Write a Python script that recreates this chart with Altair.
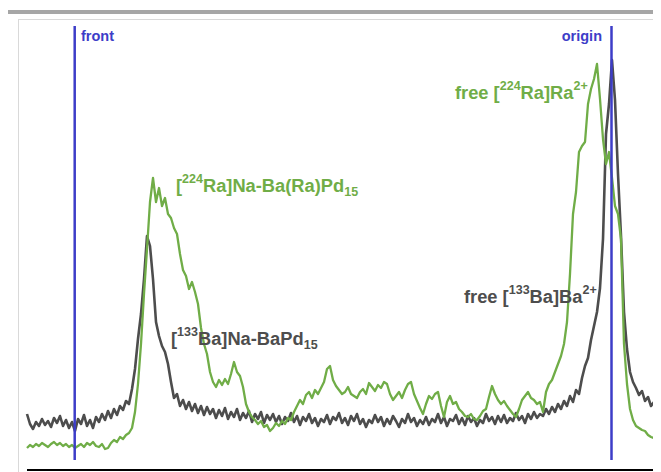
import altair as alt
import pandas as pd

# detector channel grid (channel 0 .. 633, every 3rd channel)
CHANNELS = list(range(0, 634, 3))

BA133 = [50, 40, 35, 42, 38, 45, 39, 43, 37, 46, 41, 48, 38, 44, 36, 42, 33, 45, 40, 49,
         38, 44, 36, 47, 42, 50, 44, 53, 46, 55, 49, 58, 54, 63, 60, 75, 95, 125, 150, 185,
         228, 218, 185, 142, 128, 118, 112, 100, 82, 66, 70, 58, 64, 55, 62, 53, 60, 51, 58, 49,
         57, 50, 55, 46, 54, 48, 56, 45, 52, 47, 55, 44, 51, 46, 53, 42, 50, 45, 52, 41,
         49, 44, 50, 42, 48, 40, 47, 43, 51, 42, 48, 39, 47, 43, 50, 41, 46, 38, 45, 42,
         49, 40, 47, 44, 51, 41, 46, 39, 48, 43, 50, 40, 45, 37, 44, 41, 49, 42, 47, 38,
         45, 40, 48, 43, 37, 45, 41, 50, 42, 46, 38, 44, 40, 47, 39, 45, 42, 50, 41, 47,
         38, 45, 43, 49, 40, 46, 39, 48, 42, 46, 38, 44, 41, 50, 43, 47, 40, 48, 42, 49,
         41, 46, 43, 51, 44, 48, 41, 50, 45, 52, 46, 50, 48, 55, 50, 57, 52, 60, 55, 63,
         58, 68, 62, 74, 70, 86, 98, 106, 124, 138, 152, 176, 225, 330, 360, 404, 364, 290, 228, 152,
         115, 92, 82, 76, 69, 73, 63, 67, 58, 62, 53, 56]

RA224 = [16, 19, 17, 20, 18, 21, 19, 17, 20, 22, 19, 21, 18, 20, 17, 19, 16, 18, 20, 17,
         21, 19, 22, 18, 17, 20, 15, 16, 21, 24, 22, 27, 25, 29, 31, 36, 52, 80, 120, 170,
         215, 262, 286, 262, 276, 258, 266, 250, 246, 236, 230, 210, 194, 188, 175, 182, 172, 160, 136, 120,
         110, 92, 82, 77, 84, 79, 85, 80, 90, 102, 92, 88, 77, 60, 52, 47, 44, 40, 43, 37,
         39, 33, 36, 41, 38, 43, 40, 46, 44, 52, 58, 64, 60, 69, 72, 66, 74, 70, 76, 82,
         95, 98, 84, 78, 74, 70, 72, 77, 70, 68, 66, 72, 75, 70, 81, 77, 73, 79, 76, 82,
         80, 70, 64, 68, 72, 66, 74, 80, 82, 70, 63, 56, 50, 60, 68, 65, 70, 72, 58, 47,
         62, 68, 60, 62, 55, 52, 48, 47, 50, 45, 44, 48, 53, 55, 67, 78, 70, 64, 60, 63,
         58, 54, 50, 47, 55, 64, 68, 72, 66, 64, 60, 62, 52, 72, 80, 84, 92, 100, 108, 120,
         142, 190, 250, 272, 312, 318, 322, 360, 375, 385, 400, 365, 325, 300, 312, 286, 258, 250, 225, 120,
         80, 55, 44, 38, 36, 34, 33, 29, 27, 26, 25, 24]

assert len(CHANNELS) == len(BA133) == len(RA224)

GRAY = "#4d4d4d"
GREEN = "#70ad47"
BLUE = "#3d3dc8"

FRONT_CH = 47.7
ORIGIN_CH = 584.5
MARKER_LOW = 4
MARKER_HIGH = 438

# Labels: anchor (channel, counts), colour, parts
LABELS = [
    (149, 272, GREEN, [("[", "n"), ("224", "sup"), ("Ra]Na-Ba(Ra)Pd", "n"), ("15", "sub")]),
    (144, 119, GRAY, [("[", "n"), ("133", "sup"), ("Ba]Na-BaPd", "n"), ("15", "sub")]),
    (428, 365, GREEN, [("free [", "n"), ("224", "sup"), ("Ra]Ra", "n"), ("2+", "sup")]),
    (437, 161, GRAY, [("free [", "n"), ("133", "sup"), ("Ba]Ba", "n"), ("2+", "sup")]),
]

FONT = "Liberation Sans, Arial, sans-serif"
# Liberation Sans Bold advance widths (per 1000 em)
AW = {" ": 278, "[": 333, "]": 333, "(": 333, ")": 333, "-": 333, "+": 584,
      "a": 556, "B": 722, "N": 722, "P": 667, "R": 722, "d": 611, "e": 556,
      "f": 333, "r": 389}
MAIN_SIZE = 18.3
SMALL_SIZE = 12.5


def text_width(s, size):
    return sum(AW.get(c, 556) for c in s) * size / 1000.0


rows = []
for ax, ay, col, parts in LABELS:
    cx = ax
    for txt, kind in parts:
        size = MAIN_SIZE if kind == "n" else SMALL_SIZE
        dy = 9 if kind == "sup" else (-4 if kind == "sub" else 0)
        rows.append({"ch": cx, "cnt": ay + dy, "t": txt, "size": size, "col": col})
        cx += text_width(txt, size)
pieces = pd.DataFrame(rows)

trace = pd.DataFrame({"ch": CHANNELS * 2,
                      "cnt": BA133 + RA224,
                      "series": ["Ba-133"] * len(CHANNELS) + ["Ra-224"] * len(CHANNELS)})

W, H = 645, 464
xs = alt.Scale(domain=[-19, W - 19], nice=False, zero=False)
ys = alt.Scale(domain=[-8, H - 8], nice=False, zero=False)

base = alt.Chart(trace)

gray_line = base.transform_filter(alt.datum.series == "Ba-133").mark_line(
    color=GRAY, strokeWidth=2.6, strokeJoin="round", clip=True).encode(
    x=alt.X("ch:Q", scale=xs, axis=None), y=alt.Y("cnt:Q", scale=ys, axis=None))

green_line = base.transform_filter(alt.datum.series == "Ra-224").mark_line(
    color=GREEN, strokeWidth=2.3, strokeJoin="round", clip=True).encode(
    x=alt.X("ch:Q", scale=xs, axis=None), y=alt.Y("cnt:Q", scale=ys, axis=None))

markers = pd.DataFrame({"ch": [FRONT_CH, ORIGIN_CH], "lo": [MARKER_LOW] * 2,
                        "hi": [MARKER_HIGH] * 2, "name": ["front", "origin"],
                        "tx": [FRONT_CH + 6.3, ORIGIN_CH - 9.5], "ty": [423, 423]})

marker_lines = alt.Chart(markers).mark_rule(color=BLUE, strokeWidth=2.5).encode(
    x=alt.X("ch:Q", scale=xs, axis=None), y=alt.Y("lo:Q", scale=ys, axis=None), y2="hi:Q")

front_txt = alt.Chart(markers).transform_filter(alt.datum.name == "front").mark_text(
    align="left", baseline="alphabetic", font=FONT, fontWeight="bold",
    fontSize=14.5, color=BLUE).encode(
    x=alt.X("tx:Q", scale=xs, axis=None), y=alt.Y("ty:Q", scale=ys, axis=None), text="name:N")

origin_txt = alt.Chart(markers).transform_filter(alt.datum.name == "origin").mark_text(
    align="right", baseline="alphabetic", font=FONT, fontWeight="bold",
    fontSize=14.5, color=BLUE).encode(
    x=alt.X("tx:Q", scale=xs, axis=None), y=alt.Y("ty:Q", scale=ys, axis=None), text="name:N")

label_txt = alt.Chart(pieces).mark_text(
    align="left", baseline="alphabetic", font=FONT, fontWeight="bold").encode(
    x=alt.X("ch:Q", scale=xs, axis=None), y=alt.Y("cnt:Q", scale=ys, axis=None),
    text="t:N", size=alt.Size("size:Q", scale=None, legend=None),
    color=alt.Color("col:N", scale=None, legend=None))

# frame decorations
top_bar = alt.Chart(markers).mark_rule(color="#a6a6a6", strokeWidth=4).encode(
    x=alt.value(0), x2=alt.value(W), y=alt.value(4))
frame_top = alt.Chart(markers).mark_rule(color="#d9d9d9", strokeWidth=1).encode(
    x=alt.value(10), x2=alt.value(W), y=alt.value(11.5))
frame_left = alt.Chart(markers).mark_rule(color="#d9d9d9", strokeWidth=1).encode(
    x=alt.value(10.5), y=alt.value(11), y2=alt.value(H))
bottom_line = alt.Chart(markers).mark_rule(color="#000000", strokeWidth=2).encode(
    x=alt.value(19), x2=alt.value(W), y=alt.value(462))

chart = alt.layer(
    top_bar, frame_top, frame_left, bottom_line,
    gray_line, green_line, marker_lines, front_txt, origin_txt, label_txt
).properties(
    width=W, height=H, autosize=alt.AutoSizeParams(type="none"), padding=0
).configure_view(stroke=None)

chart.save("out.html", embed_options={"renderer": "svg", "actions": False})
